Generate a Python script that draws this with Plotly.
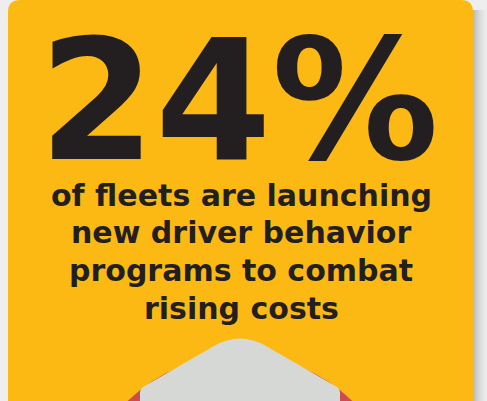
import plotly.graph_objects as go

# ---- content (values read from the infographic) ----
headline_value = 24
headline_suffix = "%"
subtitle_lines = [
    "of fleets are launching",
    "new driver behavior",
    "programs to combat",
    "rising costs",
]

# ---- styles ----
W, H = 487, 401
PAGE_BG = "#EEEEEE"
CARD = "#FCB914"
INK = "#231F20"
HEX_GRAY = "#D6D8D5"
RED = "#CD4A4F"

fig = go.Figure()

shapes = []
# right drop shadow (gradient strips)
shadow_cols = ["#B9B9B9", "#C0C0C0", "#C6C6C6", "#CBCBCB", "#D0D0D0", "#D5D5D5",
               "#D9D9D9", "#DDDDDD", "#E0E0E0", "#E3E3E3", "#E6E6E6", "#E9E9E9",
               "#EBEBEB", "#EDEDED"]
for i, c in enumerate(shadow_cols):
    shapes.append(dict(type="rect", x0=473 + i, x1=474 + i, y0=10, y1=H + 5,
                       fillcolor=c, line_width=0, layer="below"))

# yellow card with rounded top corners
r = 12
x0, x1, y0, y1 = 8, 473, 0, H + 20
card_path = (f"M {x0} {y1} L {x0} {y0 + r} Q {x0} {y0} {x0 + r} {y0} "
             f"L {x1 - r} {y0} Q {x1} {y0} {x1} {y0 + r} L {x1} {y1} Z")
shapes.append(dict(type="path", path=card_path, fillcolor=CARD, line_width=0, layer="below"))

# red disk (tire) behind the hexagon
shapes.append(dict(type="circle", x0=80, x1=400, y0=355, y1=675,
                   fillcolor=RED, line_width=0, layer="below"))

# gray hexagon with rounded top
hex_path = ("M 214 346 Q 240 331 266 346 L 337 387 Q 340 389 340 392 "
            "L 340 504 L 240 562 L 140 504 L 140 392 Q 140 389 143 387 Z")
shapes.append(dict(type="path", path=hex_path, fillcolor=HEX_GRAY, line_width=0, layer="below"))

fig.update_layout(shapes=shapes)

fig.add_annotation(
    x=239, y=101, xref="x", yref="y",
    text=f"{headline_value}{headline_suffix}",
    showarrow=False, xanchor="center", yanchor="middle",
    font=dict(family="DejaVu Sans", size=167, color=INK, weight="bold"),
)

line_top, line_step = 195, 37.7
for i, line in enumerate(subtitle_lines):
    fig.add_annotation(
        x=241, y=line_top + i * line_step, xref="x", yref="y",
        text=line,
        showarrow=False, xanchor="center", yanchor="middle", align="center",
        font=dict(family="DejaVu Sans", size=30, color=INK, weight="bold"),
    )

fig.update_xaxes(range=[0, W], visible=False, fixedrange=True)
fig.update_yaxes(range=[H, 0], visible=False, fixedrange=True)
fig.update_layout(
    width=W, height=H,
    margin=dict(l=0, r=0, t=0, b=0),
    paper_bgcolor=PAGE_BG, plot_bgcolor=PAGE_BG,
    showlegend=False,
)

fig.write_html(
    "out.html",
    config={"displayModeBar": False},
    post_script="document.body.style.margin='0';document.body.style.overflow='hidden';",
)
